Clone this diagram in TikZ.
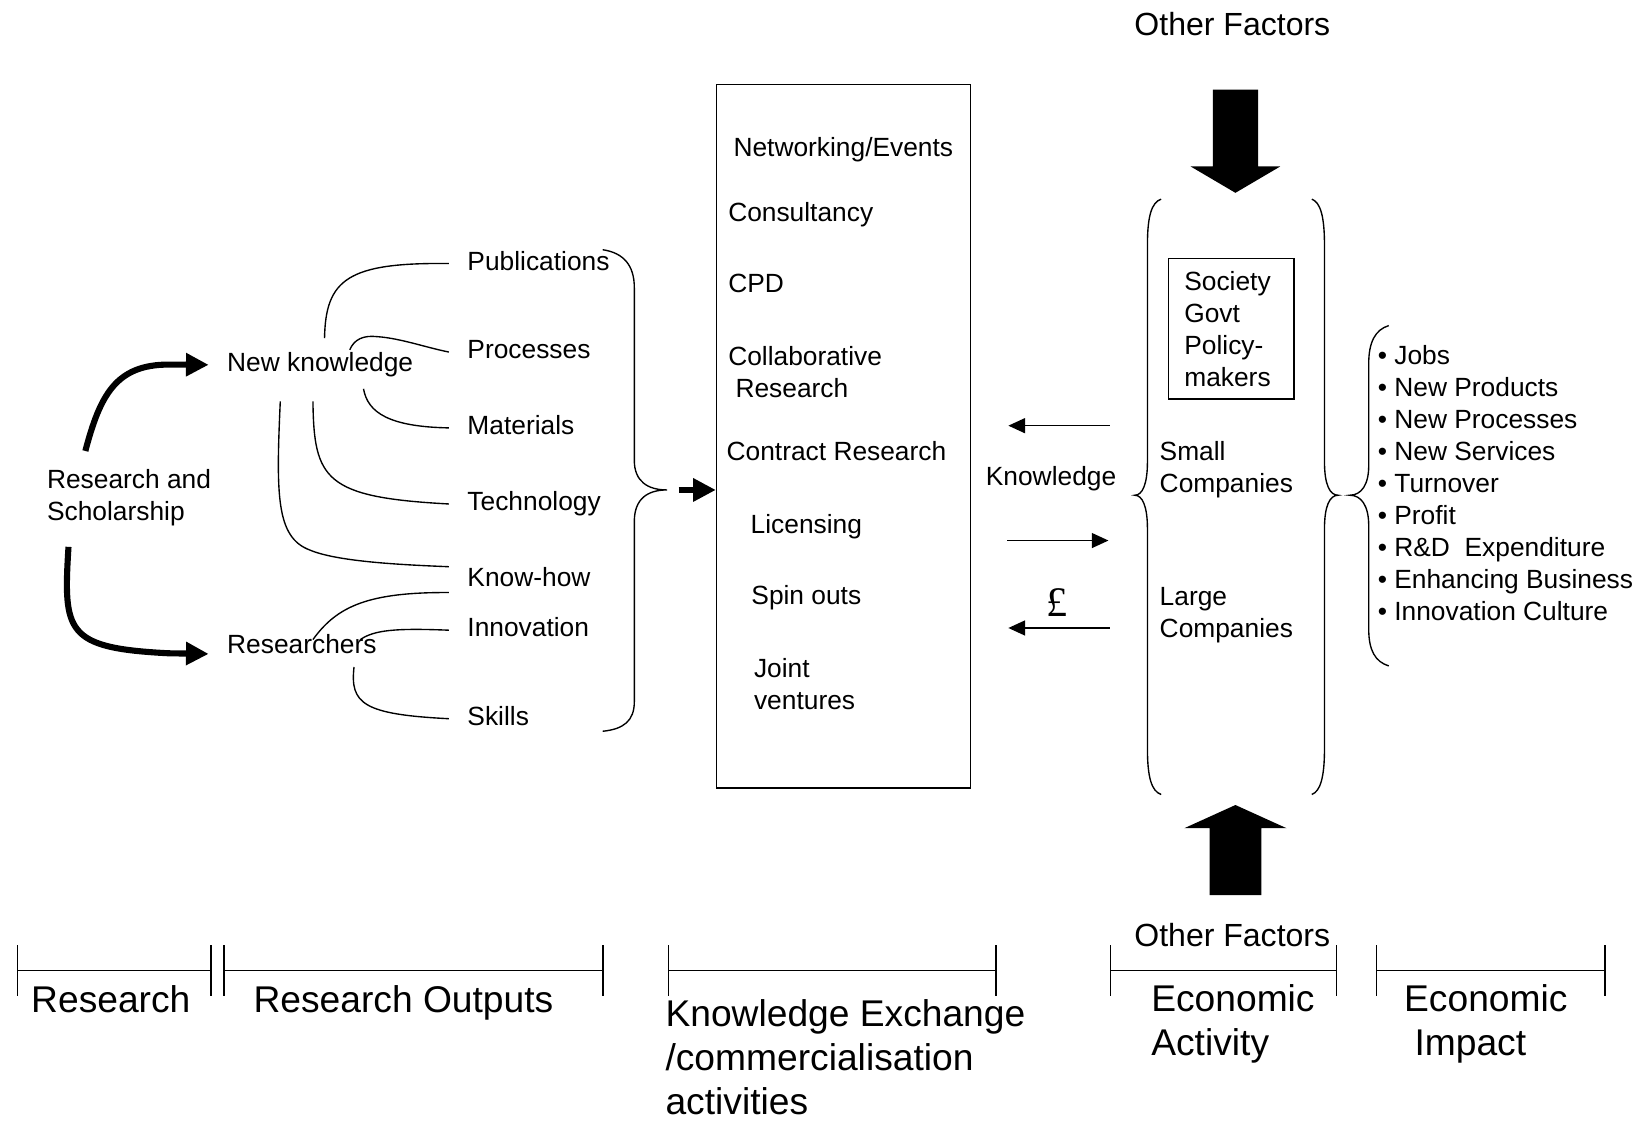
\documentclass[tikz,border=0pt]{standalone}
\usepackage{fontspec}
\setmainfont{Liberation Sans}
\newfontfamily\poundfont{Liberation Serif}
\usetikzlibrary{arrows.meta}

\begin{document}
\begin{tikzpicture}
[x=0.5pt,y=-0.5pt,line width=0.65pt,>={Triangle[length=7.9pt,width=7.1pt]}]
  \tikzstyle{txt}=[font=\fontsize{12.5}{15.2}\selectfont,inner xsep=8.5pt,inner ysep=0pt,anchor=base west,align=left]
  \tikzstyle{outlbl}=[txt,text height=9pt,text depth=2.6pt]
  \tikzstyle{stage}=[font=\fontsize{17.65}{20.75}\selectfont,inner sep=0pt,anchor=base west,align=left]
  \tikzstyle{otherlbl}=[font=\fontsize{15.2}{18}\selectfont,inner sep=0pt,anchor=base]
  \tikzstyle{fat}=[line width=2.9pt,-{Triangle[length=10.75pt,width=10.5pt]}]
  \tikzstyle{stagebar}=[{Bar[width=24pt]}-{Bar[width=24pt]}]

  \useasboundingbox (0,0) rectangle (1565,1065);

  % research and its outputs (multi-line nodes sit on their last line)
  \node[txt] (ras) at (27,494) {Research and\\Scholarship};
  \node[txt] (nk) at (198,352.7) {New knowledge};
  \node[txt] (res) at (198,620.6) {Researchers};
  \node[outlbl] (pub) at (426,256.5) {Publications};
  \node[outlbl] (proc) at (426,340.5) {Processes};
  \node[outlbl] (mat) at (426,412.5) {Materials};
  \node[outlbl] (tech) at (426,484.7) {Technology};
  \node[outlbl] (know) at (426,556.5) {Know-how};
  \node[outlbl] (innov) at (426,604.5) {Innovation};
  \node[outlbl] (skills) at (426,688.5) {Skills};

  \coordinate (ras-up) at (81,428);
  \coordinate (ras-dn) at (65,519);
  \draw[fat] (ras-up) .. controls (95,375) and (110,346) .. (160,346) -- (nk.west);
  \draw[fat] (ras-dn) .. controls (60,600) and (62,615) .. (160,620) -- (res.base west);

  \coordinate (nk-pub) at (308,321);
  \coordinate (nk-proc) at (332,332);
  \coordinate (nk-mat) at (345,369);
  \coordinate (nk-tech) at (297,381);
  \coordinate (nk-know) at (266,381);
  \coordinate (res-know) at (297,607);
  \coordinate (res-innov) at (342,607);
  \coordinate (res-skills) at (336,633);
  \draw (nk-pub) .. controls (309,265) and (330,249) .. (pub.west);
  \draw (nk-proc) .. controls (336,322) and (345,318) .. (358,319.5)
        .. controls (380,321) and (405,330) .. (proc.west);
  \draw (nk-mat) .. controls (349,392) and (370,405) .. (mat.west);
  \draw (nk-tech) .. controls (298,455) and (308,472) .. (tech.west);
  \draw (nk-know) .. controls (262,470) and (262,510) .. (294,522)
        .. controls (320,533) and (380,536) .. (know.north west);
  \draw (res-know) .. controls (320,575) and (350,562) .. (know.south west);
  \draw (res-innov) .. controls (355,598) and (375,596) .. (innov.west);
  \draw (res-skills) .. controls (332,668) and (345,678) .. (skills.west);

  % brace round the outputs
  \coordinate (otip) at (633,465);
  \draw (572,237) .. controls (592,240) and (602,252) .. (602,273) -- (602,437)
        .. controls (602,457) and (615,465) .. (otip)
        .. controls (615,465) and (602,473) .. (602,495) -- (602,666)
        .. controls (602,684) and (592,692) .. (572,694);

  % knowledge exchange
  \node[draw,minimum width=120.5pt,minimum height=334pt,inner sep=0pt] (kex) at (800.5,414) {};
  \draw[fat] ([xshift=5.5pt]otip) -- (otip -| kex.west);
  \node[txt] (netw) at (678.5,149) {Networking/Events};
  \node[txt] (cons) at (673.5,210) {Consultancy};
  \node[txt] (cpd) at (673.5,278) {CPD};
  \node[txt] (collab) at (673.5,377) {Collaborative\\\ Research};
  \node[txt] (contr) at (672,437) {Contract Research};
  \node[txt] (lic) at (694.8,506) {Licensing};
  \node[txt] (spin) at (695.5,574) {Spin outs};
  \node[txt] (joint) at (698,673.5) {Joint\\ventures};

  \node[txt] (knw) at (918,461) {Knowledge};
  \node[font=\poundfont\fontsize{20}{24}\selectfont,inner sep=0pt,anchor=base] (gbp) at (1003,585) {£};
  \coordinate (k1a) at (1053,404);
  \coordinate (k1b) at (957,404);
  \coordinate (k2a) at (956,513);
  \coordinate (k2b) at (1052,513);
  \coordinate (k3a) at (1053,596);
  \coordinate (k3b) at (957,596);
  \draw[->] (k1a) -- (k1b);
  \draw[->] (k2a) -- (k2b);
  \draw[->] (k3a) -- (k3b);

  % economic activity
  \node[otherlbl] (oft) at (1169.6,33.4) {Other Factors};
  \fill (1151,85) -- (1194,85) -- (1194,158) -- (1215,158) -- (1172.5,183)
        -- (1130,158) -- (1151,158) -- cycle;
  \fill (1148,849.5) -- (1197,849.5) -- (1197,786) -- (1221,786) -- (1172.5,764)
        -- (1124,786) -- (1148,786) -- cycle;
  \draw (1102,189) .. controls (1093,192) and (1089,205) .. (1089,232) -- (1089,438)
        .. controls (1089,460) and (1084,470) .. (1077,470)
        .. controls (1084,470) and (1089,480) .. (1089,502) -- (1089,711)
        .. controls (1089,738) and (1093,751) .. (1102,754);
  \draw (1245,189) .. controls (1253,192) and (1257,205) .. (1257,232) -- (1257,438)
        .. controls (1257,460) and (1262,470) .. (1270,470)
        .. controls (1262,470) and (1257,480) .. (1257,502) -- (1257,711)
        .. controls (1257,738) and (1253,751) .. (1245,754);
  \node[draw,align=left,text width=44.5pt,inner xsep=7.5pt,minimum height=66.5pt,
        font=\fontsize{12.5}{15.2}\selectfont] (soc) at (1168.5,312) {Society\\Govt\\Policy-\\makers};
  \node[txt] (small) at (1083,467.3) {Small\\Companies};
  \node[txt] (large) at (1083,604.6) {Large\\Companies};

  % economic impact
  \draw (1318,309) .. controls (1305,313) and (1299,325) .. (1299,345) -- (1299,442)
        .. controls (1299,460) and (1292,470) .. (1281,470)
        .. controls (1292,470) and (1299,480) .. (1299,499) -- (1299,597)
        .. controls (1299,617) and (1305,628) .. (1318,632);
  \node[txt] (imp) at (1290,589.2) {\textbullet\ Jobs\\\textbullet\ New Products\\\textbullet\ New Processes\\
    \textbullet\ New Services\\\textbullet\ Turnover\\\textbullet\ Profit\\\textbullet\ R\&D\ \ Expenditure\\
    \textbullet\ Enhancing Business\\\textbullet\ Innovation Culture};

  % stages
  \node[otherlbl] (ofb) at (1169.5,898.4) {Other Factors};
  \draw[stagebar] (16,921) -- (201,921);
  \draw[stagebar] (212,921) -- (573,921);
  \draw[stagebar] (634,921) -- (946,921);
  \draw[stagebar] (1053,921) -- (1269,921);
  \draw[stagebar] (1306,921) -- (1524,921);
  \node[stage] (st1) at (29,961) {Research};
  \node[stage] (st2) at (240,961) {Research Outputs};
  \node[stage] (st3) at (631,1057.3) {Knowledge Exchange\\/commercialisation\\activities};
  \node[stage] (st4) at (1092,1001.5) {Economic\\Activity};
  \node[stage] (st5) at (1332,1001.5) {Economic\\\ Impact};
\end{tikzpicture}
\end{document}
